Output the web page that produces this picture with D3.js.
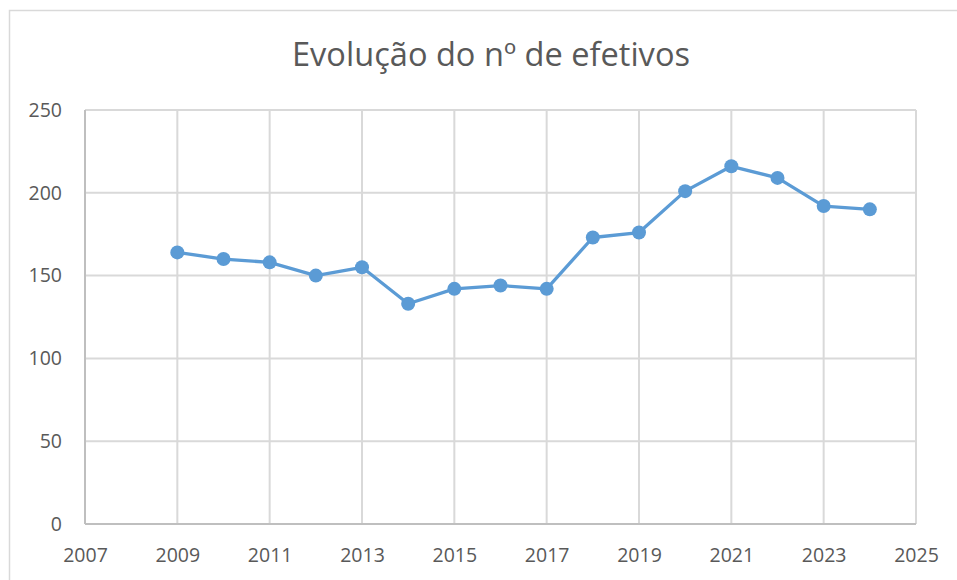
<!DOCTYPE html>
<html>
<head>
<meta charset="utf-8">
<script src="https://cdn.jsdelivr.net/npm/d3@7"></script>
<style>
  body { margin: 0; background: #fff; }
  svg { display: block; font-family: 'Open Sans', sans-serif; }
</style>
</head>
<body>
<div id="viz"></div>
<script>
// data
const years = [2009, 2010, 2011, 2012, 2013, 2014, 2015, 2016, 2017, 2018, 2019, 2020, 2021, 2022, 2023, 2024]
const efetivos = [164, 160, 158, 150, 155, 133, 142, 144, 142, 173, 176, 201, 216, 209, 192, 190]
const xTicks = [2007, 2009, 2011, 2013, 2015, 2017, 2019, 2021, 2023, 2025]
const yTicks = [0, 50, 100, 150, 200, 250]
const title = 'Evolução do nº de efetivos'

let width = 957,
    height = 580

let margin = {top: 110, right: 41, bottom: 56, left: 85}

let svg = d3.select('#viz')
            .append('svg')
            .attr('width', width)
            .attr('height', height)

// chart frame
svg.append('rect')
   .attr('x', 9.5)
   .attr('y', 10.5)
   .attr('width', width + 10)
   .attr('height', height + 10)
   .style('fill', '#fff')
   .style('stroke', '#d9d9d9')
   .style('stroke-width', 1.5)

let xScale = d3.scaleLinear()
               .domain([2007, 2025])
               .range([margin.left, width - margin.right])

let yScale = d3.scaleLinear()
               .domain([0, 250])
               .range([height - margin.bottom, margin.top])

// grid lines
svg.append('g')
   .selectAll('line.gy')
   .data(yTicks)
   .enter()
     .append('line')
     .attr('x1', xScale(2007))
     .attr('x2', xScale(2025))
     .attr('y1', d => yScale(d))
     .attr('y2', d => yScale(d))
     .style('stroke', '#d9d9d9')
     .style('stroke-width', 2)

svg.append('g')
   .selectAll('line.gx')
   .data(xTicks)
   .enter()
     .append('line')
     .attr('x1', d => xScale(d))
     .attr('x2', d => xScale(d))
     .attr('y1', yScale(0))
     .attr('y2', yScale(250))
     .style('stroke', d => d === 2007 ? '#bfbfbf' : '#d9d9d9')
     .style('stroke-width', 2)

// bottom axis line
svg.append('line')
   .attr('x1', xScale(2007))
   .attr('x2', xScale(2025))
   .attr('y1', yScale(0))
   .attr('y2', yScale(0))
   .style('stroke', '#bfbfbf')
   .style('stroke-width', 2)

// axes, only for the labels
let xAxis = svg.append('g')
               .attr('transform', `translate(0,${yScale(0)})`)
               .call(d3.axisBottom(xScale).tickValues(xTicks).tickFormat(d3.format('d')).tickSize(0).tickPadding(24))
xAxis.select('.domain').remove()

let yAxis = svg.append('g')
               .attr('transform', `translate(${xScale(2007)},0)`)
               .call(d3.axisLeft(yScale).tickValues(yTicks).tickSize(0).tickPadding(23))
yAxis.select('.domain').remove()

svg.selectAll('.tick text')
   .style('font-family', "'Open Sans', sans-serif")
   .style('font-size', '19.5px')
   .style('fill', '#595959')

// line + markers
let line = d3.line()
             .x((d, i) => xScale(years[i]))
             .y(d => yScale(d))

svg.append('path')
   .datum(efetivos)
   .attr('d', line)
   .style('fill', 'none')
   .style('stroke', '#5b9bd5')
   .style('stroke-width', 3.3)
   .style('stroke-linejoin', 'round')

svg.selectAll('circle')
   .data(efetivos)
   .enter()
     .append('circle')
     .attr('cx', (d, i) => xScale(years[i]))
     .attr('cy', d => yScale(d))
     .attr('r', 7)
     .style('fill', '#5b9bd5')

// title
svg.append('text')
   .attr('x', 491)
   .attr('y', 66)
   .attr('text-anchor', 'middle')
   .attr('textLength', 398)
   .attr('lengthAdjust', 'spacingAndGlyphs')
   .style('font-family', "'Open Sans', sans-serif")
   .style('font-size', '32px')
   .style('fill', '#595959')
   .text(title)
</script>
</body>
</html>
